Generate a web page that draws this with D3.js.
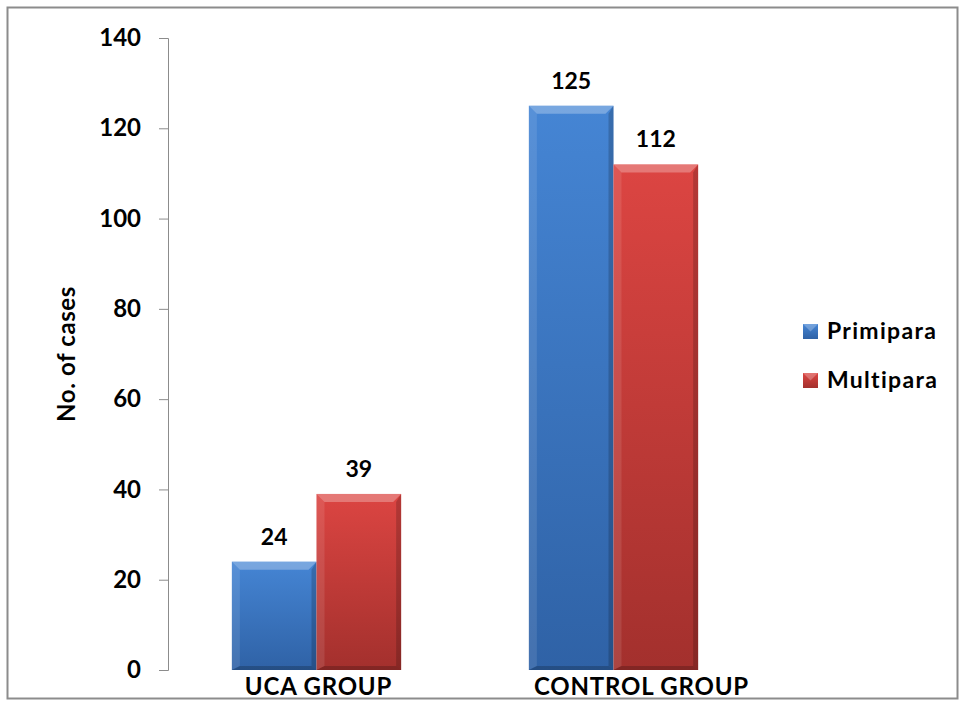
<!DOCTYPE html>
<html><head><meta charset="utf-8">
<script src="https://cdn.jsdelivr.net/npm/d3@7"></script>
<style>body{margin:0;background:#fff}svg{display:block}</style>
</head><body>
<svg id="c" width="960" height="702"></svg>
<script>
const categories = ["UCA GROUP", "CONTROL GROUP"];
const seriesNames = ["Primipara", "Multipara"];
const primipara = [24, 125];
const multipara = [39, 112];
const yTicks = [0, 20, 40, 60, 80, 100, 120, 140];

(function(){
const svg = d3.select("#c");
const font = "Lato, 'Open Sans', sans-serif";
const colors = {Primipara: ["#4585d4", "#2f62a6"], Multipara: ["#dc4542", "#a3302d"]};
const labelShift = [2, 28];

const defs = svg.append("defs");
seriesNames.forEach(s => {
  const g = defs.append("linearGradient").attr("id", "g" + s).attr("x1", 0).attr("y1", 0).attr("x2", 0).attr("y2", 1);
  g.append("stop").attr("offset", "0%").attr("stop-color", colors[s][0]);
  g.append("stop").attr("offset", "100%").attr("stop-color", colors[s][1]);
});

svg.append("rect").attr("x", 7.5).attr("y", 7.5).attr("width", 950).attr("height", 691)
  .attr("fill", "#fff").attr("stroke", "#8c8c8c").attr("stroke-width", 2);

const pLeft = 168, pRight = 762, pTop = 38, pBottom = 670;
const y = d3.scaleLinear().domain([0, 140]).range([pBottom, pTop]);
const x0 = d3.scaleBand().domain(categories).range([pLeft, pRight]).paddingInner(0.43).paddingOuter(0.215);
const x1 = d3.scaleBand().domain(seriesNames).range([0, x0.bandwidth()]);

const yAxis = svg.append("g").attr("transform", `translate(${pLeft},0)`)
  .call(d3.axisLeft(y).tickValues(yTicks).tickSize(9).tickPadding(18));
yAxis.select(".domain").attr("stroke", "#8c8c8c");
yAxis.selectAll(".tick line").attr("stroke", "#8c8c8c");
yAxis.selectAll("text").attr("font-family", font).attr("font-weight", "bold").attr("font-size", 24).attr("fill", "#000");

svg.append("text").attr("transform", `translate(75,${354}) rotate(-90)`)
  .attr("text-anchor", "middle").attr("font-family", font).attr("font-weight", "bold").attr("font-size", 24)
  .attr("letter-spacing", 0.6)
  .text("No. of cases");

const data = categories.map((c, i) => ({cat: c, vals: [{s: "Primipara", v: primipara[i]}, {s: "Multipara", v: multipara[i]}]}));

const grp = svg.selectAll(".grp").data(data).enter().append("g").attr("transform", d => `translate(${x0(d.cat)},0)`);
const bar = grp.selectAll(".bar").data(d => d.vals).enter().append("g");
const bw = x1.bandwidth();
bar.append("rect").attr("x", d => x1(d.s)).attr("y", d => y(d.v)).attr("width", bw)
  .attr("height", d => pBottom - y(d.v)).attr("fill", d => `url(#g${d.s})`);
bar.append("path").attr("d", d => {
  const x = x1(d.s), t = y(d.v);
  return `M${x},${t}L${x + bw},${t}L${x + bw - 8},${t + 8}L${x + 8},${t + 8}Z`;
}).attr("fill", "#fff").attr("opacity", 0.28);
bar.append("path").attr("d", d => {
  const x = x1(d.s), t = y(d.v);
  return `M${x},${t}L${x + 8},${t + 8}L${x + 8},${pBottom - 4}L${x},${pBottom}Z`;
}).attr("fill", "#fff").attr("opacity", 0.1);
bar.append("path").attr("d", d => {
  const x = x1(d.s), t = y(d.v);
  return `M${x + bw},${t}L${x + bw - 5},${t + 8}L${x + bw - 5},${pBottom - 4}L${x + bw},${pBottom}Z`;
}).attr("fill", "#000").attr("opacity", 0.18);
bar.append("path").attr("d", d => {
  const x = x1(d.s);
  return `M${x},${pBottom}L${x + 8},${pBottom - 4}L${x + bw - 5},${pBottom - 4}L${x + bw},${pBottom}Z`;
}).attr("fill", "#000").attr("opacity", 0.2);
bar.append("text").attr("x", d => x1(d.s) + bw / 2).attr("y", d => y(d.v) - 17)
  .attr("text-anchor", "middle").attr("font-family", font).attr("font-weight", "bold").attr("font-size", 23)
  .text(d => d.v);

svg.selectAll(".xl").data(categories).enter().append("text")
  .attr("x", (d, i) => x0(d) + x0.bandwidth() / 2 + labelShift[i]).attr("y", 695).attr("text-anchor", "middle")
  .attr("font-family", font).attr("font-weight", "bold").attr("font-size", 24).attr("letter-spacing", 0.8).text(d => d);

const leg = svg.selectAll(".leg").data(seriesNames).enter().append("g")
  .attr("transform", (d, i) => `translate(803,${324 + i * 49})`);
leg.append("rect").attr("width", 15).attr("height", 15).attr("fill", d => `url(#g${d})`);
leg.append("path").attr("d", "M0,0L15,0L7.5,7.5Z").attr("fill", "#fff").attr("opacity", 0.25);
leg.append("text").attr("x", 24).attr("y", 15).attr("font-family", font).attr("font-weight", "bold")
  .attr("font-size", 23).attr("letter-spacing", 1.3).text(d => d);
})();
</script>
</body></html>
